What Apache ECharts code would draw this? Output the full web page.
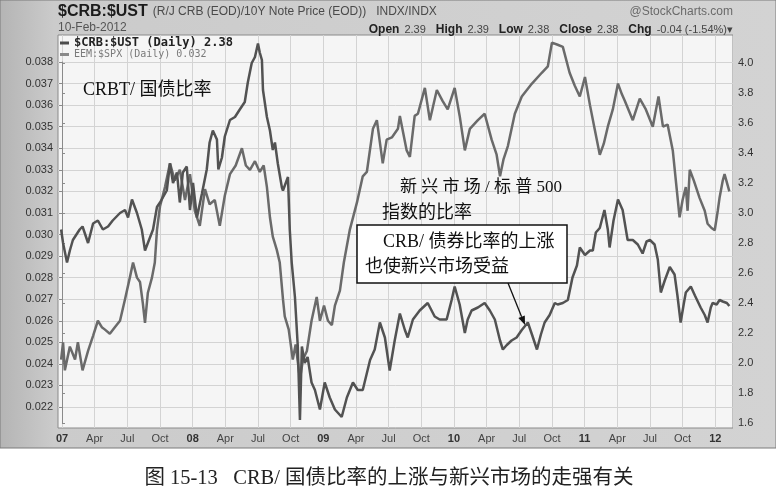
<!DOCTYPE html>
<html><head><meta charset="utf-8">
<script src="https://cdn.jsdelivr.net/npm/echarts/dist/echarts.min.js"></script>
<style>html,body{margin:0;padding:0;background:#fff}#c{width:776px;height:496px}</style>
</head><body><div id="c"></div>
<script>
// ---- data ----
const crbDates = ['2006-12-29','2007-01-04','2007-01-15','2007-01-23','2007-02-01','2007-02-20','2007-02-28','2007-03-13','2007-03-27','2007-04-10',
'2007-04-24','2007-05-08','2007-05-21','2007-06-11','2007-06-25','2007-07-03','2007-07-14','2007-07-28','2007-08-11','2007-08-20',
'2007-08-28','2007-09-12','2007-09-23','2007-10-01','2007-10-20','2007-10-29','2007-11-07','2007-11-18','2007-11-26','2007-12-04',
'2007-12-15','2007-12-24','2008-01-02','2008-01-13','2008-01-27','2008-02-10','2008-02-18','2008-02-27','2008-03-08','2008-03-12',
'2008-03-22','2008-03-30','2008-04-14','2008-04-28','2008-05-11','2008-05-25','2008-06-03','2008-06-14','2008-06-23','2008-07-01',
'2008-07-06','2008-07-12','2008-07-15','2008-07-26','2008-08-04','2008-08-12','2008-08-18','2008-08-26','2008-09-07','2008-09-10',
'2008-09-24','2008-09-29','2008-10-04','2008-10-13','2008-10-21','2008-10-27','2008-11-02','2008-11-10','2008-11-18','2008-11-29',
'2008-12-08','2008-12-22','2009-01-05','2009-01-19','2009-02-03','2009-02-22','2009-03-06','2009-03-23','2009-04-06','2009-04-20',
'2009-05-10','2009-05-23','2009-06-07','2009-06-21','2009-07-04','2009-07-18','2009-08-02','2009-08-16','2009-08-24','2009-09-08',
'2009-09-27','2009-10-19','2009-11-08','2009-11-22','2009-12-11','2009-12-25','2010-01-03','2010-01-17','2010-02-01','2010-02-09',
'2010-02-20','2010-03-07','2010-03-26','2010-04-10','2010-04-24','2010-05-08','2010-05-16','2010-05-27','2010-06-10','2010-06-24',
'2010-07-08','2010-07-25','2010-08-06','2010-08-20','2010-08-31','2010-09-11','2010-09-25','2010-10-09','2010-10-17','2010-11-01',
'2010-11-15','2010-11-28','2010-12-10','2010-12-18','2011-01-02','2011-01-16','2011-01-24','2011-02-02','2011-02-13','2011-02-26',
'2011-03-05','2011-03-10','2011-03-21','2011-04-03','2011-04-16','2011-04-30','2011-05-14','2011-05-28','2011-06-11','2011-06-22',
'2011-07-01','2011-07-14','2011-07-23','2011-08-01','2011-08-12','2011-08-26','2011-09-09','2011-09-17','2011-09-26','2011-10-04',
'2011-10-10','2011-10-24','2011-11-05','2011-11-21','2011-12-02','2011-12-10','2011-12-19','2011-12-24','2012-01-05','2012-01-13',
'2012-01-22','2012-02-03','2012-02-10'];
const crbValues = [2.89,2.80,2.67,2.75,2.82,2.89,2.91,2.80,2.93,2.95,
2.89,2.91,2.95,3.00,3.02,2.97,3.09,3.00,2.89,2.75,
2.80,2.89,3.04,3.07,3.15,3.33,3.20,3.27,3.07,3.27,
3.31,3.02,3.20,2.97,3.13,3.29,3.47,3.55,3.49,3.29,
3.37,3.51,3.62,3.64,3.69,3.74,3.87,4.00,4.04,4.13,
4.07,4.02,3.82,3.64,3.55,3.42,3.47,3.33,3.17,3.15,
3.24,2.89,2.67,2.44,2.11,1.62,2.11,2.00,2.04,1.87,
1.82,1.69,1.87,1.77,1.69,1.64,1.77,1.87,1.82,1.82,
2.02,2.09,2.27,2.17,1.95,2.15,2.33,2.22,2.17,2.29,
2.35,2.40,2.31,2.29,2.29,2.42,2.51,2.39,2.20,2.29,
2.35,2.37,2.40,2.35,2.29,2.15,2.09,2.12,2.15,2.17,
2.22,2.27,2.19,2.09,2.19,2.27,2.32,2.40,2.39,2.40,
2.42,2.57,2.65,2.77,2.72,2.75,2.75,2.87,2.90,3.02,
2.89,2.77,2.95,3.09,3.02,2.82,2.82,2.79,2.73,2.81,
2.82,2.79,2.69,2.47,2.55,2.64,2.59,2.45,2.27,2.39,
2.47,2.51,2.45,2.37,2.32,2.27,2.37,2.40,2.39,2.42,
2.41,2.40,2.38];

const eemDates = ['2006-12-29','2007-01-04','2007-01-09','2007-01-23','2007-02-07','2007-02-15','2007-02-28','2007-03-13','2007-03-27','2007-04-10',
'2007-04-21','2007-04-29','2007-05-13','2007-05-27','2007-06-11','2007-06-25','2007-07-08','2007-07-17','2007-07-28','2007-08-06',
'2007-08-14','2007-08-20','2007-08-28','2007-09-09','2007-09-17','2007-09-23','2007-10-01','2007-10-15','2007-10-29',
'2007-11-12','2007-11-26','2007-12-10','2007-12-24','2008-01-07','2008-01-21','2008-02-05','2008-02-18','2008-03-02','2008-03-16',
'2008-03-30','2008-04-14','2008-04-30','2008-05-17','2008-05-28','2008-06-09','2008-06-23','2008-07-06','2008-07-17','2008-07-26',
'2008-08-04','2008-08-12','2008-08-23','2008-09-01','2008-09-10','2008-09-15','2008-09-26','2008-10-07','2008-10-15','2008-10-27',
'2008-11-05','2008-11-16','2008-11-29','2008-12-13','2008-12-22','2009-01-03','2009-01-14','2009-01-25','2009-02-03','2009-02-17',
'2009-02-28','2009-03-14','2009-04-04','2009-04-20','2009-05-01','2009-05-18','2009-05-29','2009-06-15','2009-06-26','2009-07-10',
'2009-07-27','2009-08-02','2009-08-21','2009-08-30','2009-09-13','2009-09-22','2009-10-11','2009-10-25','2009-11-14','2009-11-30',
'2009-12-14','2010-01-03','2010-01-17','2010-02-01','2010-02-15','2010-03-07','2010-03-26','2010-04-15','2010-04-29','2010-05-08',
'2010-05-18','2010-05-30','2010-06-19','2010-07-08','2010-08-06','2010-09-03','2010-09-20','2010-10-01','2010-10-17','2010-11-01',
'2010-11-20','2010-12-04','2010-12-18','2011-01-02','2011-01-16','2011-01-29','2011-02-13','2011-02-24','2011-03-05','2011-03-19',
'2011-04-03','2011-04-14','2011-04-22','2011-05-14','2011-06-03','2011-06-20','2011-07-09','2011-07-25','2011-08-07','2011-08-20',
'2011-09-04','2011-09-15','2011-09-23','2011-10-01','2011-10-10','2011-10-15','2011-10-21','2011-11-02','2011-11-18','2011-12-02',
'2011-12-10','2011-12-21','2011-12-30','2012-01-08','2012-01-13','2012-01-22','2012-01-27','2012-02-10'];
const eemValues = [0.0242,0.0250,0.0237,0.0248,0.0242,0.0250,0.0237,0.0246,0.0253,0.0260,
0.0257,0.0256,0.0254,0.0257,0.0260,0.0270,0.0280,0.0287,0.0280,0.0278,
0.0268,0.0259,0.0273,0.0280,0.0287,0.0302,0.0313,0.0322,0.0333,
0.0325,0.0330,0.0316,0.0328,0.0311,0.0304,0.0321,0.0314,0.0316,0.0304,
0.0318,0.0328,0.0332,0.0340,0.0332,0.0330,0.0334,0.0329,0.0332,0.0322,
0.0308,0.0299,0.0293,0.0287,0.0270,0.0262,0.0256,0.0242,0.0249,0.0233,
0.0242,0.0246,0.0260,0.0271,0.0260,0.0267,0.0260,0.0258,0.0267,0.0274,
0.0287,0.0302,0.0315,0.0327,0.0329,0.0349,0.0353,0.0333,0.0344,0.0345,
0.0349,0.0355,0.0339,0.0336,0.0355,0.0356,0.0368,0.0353,0.0367,0.0362,
0.0358,0.0368,0.0355,0.0339,0.0349,0.0353,0.0356,0.0344,0.0337,0.0327,
0.0335,0.0341,0.0356,0.0364,0.0370,0.0375,0.0378,0.0389,0.0388,0.0387,
0.0375,0.0369,0.0364,0.0373,0.0360,0.0349,0.0337,0.0342,0.0350,0.0358,
0.0370,0.0365,0.0362,0.0353,0.0363,0.0358,0.0350,0.0364,0.0350,0.0351,
0.0339,0.0321,0.0308,0.0316,0.0322,0.0311,0.0330,0.0325,0.0317,0.0311,
0.0305,0.0303,0.0302,0.0311,0.0317,0.0325,0.0328,0.0320];

const quarterLabels = ['', 'Apr', 'Jul', 'Oct'];
const crbName = '$CRB:$UST';
const eemName = 'EEM:$SPX';

// ---- helpers ----
const toMonth = s => { const p = s.split('-').map(Number); return (p[0] - 2007) * 12 + (p[1] - 1) + (p[2] - 1) / 30.44; };
const crbData = crbDates.map((d, i) => [toMonth(d), crbValues[i]]);
const eemData = eemDates.map((d, i) => [toMonth(d), eemValues[i]]);
const XMIN = -0.367, XMAX = 61.63;
const SANS = '"Liberation Sans", Arial, sans-serif';
const MONO = '"DejaVu Sans Mono", monospace';
const SERIF = '"Liberation Serif", "Noto Sans CJK SC", serif';
const GRID_C = '#d3d3d3', AXIS_C = '#8a8a8a';

const chart = echarts.init(document.getElementById('c'), null, {renderer: 'canvas'});
const txt = (x, y, text, size, align) => ({
  type: 'text', x: x, y: y, z: 100,
  style: {text: text, font: size + 'px ' + SERIF, fill: '#111', align: align || 'left', textAlign: align || 'left', verticalAlign: 'middle', textVerticalAlign: 'middle'}
});

chart.setOption({
  animation: false,
  backgroundColor: '#ffffff',
  title: [
    {left: 58, top: 3, padding: 0,
     text: '{a|$CRB:$UST} {b|(R/J CRB (EOD)/10Y Note Price (EOD))}  {b|INDX/INDX}',
     textStyle: {fontWeight: 'normal',
                 rich: {a: {fontFamily: SANS, fontSize: 16, fontWeight: 'bold', color: '#1c1c1c'},
                        b: {fontFamily: SANS, fontSize: 12, fontWeight: 'normal', color: '#4a4a4a'}}}},
    {left: 58, top: 22, padding: 0, text: '10-Feb-2012',
     textStyle: {fontFamily: SANS, fontSize: 12, fontWeight: 'normal', color: '#555'}},
    {right: 43, top: 6, padding: 0, text: '@StockCharts.com',
     textStyle: {fontFamily: SANS, fontSize: 12, fontWeight: 'normal', color: '#6a6a6a'}},
    {right: 43, top: 21, padding: 0,
     text: '{b|Open} {n|2.39}  {b|High} {n|2.39}  {b|Low} {n|2.38}  {b|Close} {n|' + crbValues[crbValues.length - 1].toFixed(2) + '}  {b|Chg} {n|-0.04 (-1.54%)▾}',
     textStyle: {fontWeight: 'normal',
                 rich: {b: {fontFamily: SANS, fontSize: 12, fontWeight: 'bold', color: '#222'},
                        n: {fontFamily: SANS, fontSize: 11, fontWeight: 'normal', color: '#444'}}}}
  ],
  legend: {
    orient: 'vertical', left: 60, top: 37, padding: 0, itemGap: 0, itemWidth: 9, itemHeight: 3, icon: 'rect',
    selectedMode: false,
    data: [
      {name: crbName, textStyle: {fontFamily: MONO, fontWeight: 'bold', fontSize: 12, color: '#222', lineHeight: 11}},
      {name: eemName, textStyle: {fontFamily: MONO, fontSize: 10, color: '#7a7a7a', lineHeight: 11}}
    ],
    formatter: n => n === crbName
      ? n + ' (Daily) ' + crbValues[crbValues.length - 1].toFixed(2)
      : n + ' (Daily) ' + eemValues[eemValues.length - 1].toFixed(3)
  },
  grid: [
    {left: 58, right: 43, top: 35, bottom: 68, show: true, backgroundColor: '#f5f5f5', borderColor: AXIS_C, borderWidth: 1},
    {left: 62, right: 43, top: 35, bottom: 68},
    {left: 58, right: 43, top: 62, bottom: 89},
    {left: 58, right: 43, top: 63, bottom: 73}
  ],
  xAxis: [
    {gridIndex: 0, type: 'value', min: 0, max: 1, show: false},
    {gridIndex: 1, type: 'value', min: 0, max: XMAX, interval: 3,
     axisLine: {show: false}, axisTick: {show: false},
     splitLine: {show: true, lineStyle: {color: GRID_C, width: 1}},
     axisLabel: {showMinLabel: true, showMaxLabel: false, margin: 5,
       formatter: v => { const k = Math.round(v); return k % 12 === 0 ? '{y|' + String(7 + k / 12).padStart(2, '0') + '}' : '{m|' + quarterLabels[(k % 12) / 3] + '}'; },
       rich: {y: {fontFamily: SANS, fontSize: 11, fontWeight: 'bold', color: '#333'},
              m: {fontFamily: SANS, fontSize: 11, color: '#444'}}}},
    {gridIndex: 2, type: 'value', min: XMIN, max: XMAX, show: false},
    {gridIndex: 3, type: 'value', min: XMIN, max: XMAX, show: false}
  ],
  yAxis: [
    {gridIndex: 0, type: 'value', min: 0, max: 1, show: false},
    {gridIndex: 1, type: 'value', min: 0, max: 1, show: false},
    {gridIndex: 2, type: 'value', position: 'left', min: 0.022, max: 0.038, interval: 0.001,
     axisLine: {show: true, lineStyle: {color: AXIS_C}}, axisTick: {show: true, length: 3, lineStyle: {color: AXIS_C}},
     axisLabel: {margin: 5, fontFamily: SANS, fontSize: 11, color: '#333', formatter: v => v.toFixed(3)},
     splitLine: {show: true, lineStyle: {color: GRID_C, width: 1}}},
    {gridIndex: 3, type: 'value', position: 'right', min: 1.6, max: 4.0, interval: 0.2,
     axisLine: {show: true, lineStyle: {color: AXIS_C}}, axisTick: {show: true, length: 3, lineStyle: {color: AXIS_C}},
     axisLabel: {margin: 5, fontFamily: SANS, fontSize: 11, color: '#333', formatter: v => v.toFixed(1)},
     splitLine: {show: false}}
  ],
  series: [
    {name: crbName, type: 'line', xAxisIndex: 3, yAxisIndex: 3, data: crbData, showSymbol: false, clip: false, z: 4,
     lineStyle: {width: 2.5, color: '#525252'}, itemStyle: {color: '#4c4c4c'}},
    {name: eemName, type: 'line', xAxisIndex: 2, yAxisIndex: 2, data: eemData, showSymbol: false, clip: false, z: 3,
     lineStyle: {width: 2.5, color: '#6a6a6a'}, itemStyle: {color: '#8a8a8a'}}
  ],
  graphic: [
    {type: 'rect', z: -100, shape: {x: 0, y: 0, width: 776, height: 448},
     style: {fill: new echarts.graphic.LinearGradient(0, 0, 1, 0, [{offset: 0, color: '#b4b4b4'}, {offset: 0.07, color: '#cbcbcb'}, {offset: 1, color: '#d3d3d3'}]), stroke: '#7a7a7a', lineWidth: 1}},
    txt(83, 90, 'CRBT/ 国债比率', 18),
    txt(400, 188, '新 兴 市 场 / 标 普 500', 17),
    txt(382, 213, '指数的比率', 18),
    {type: 'rect', z: 100, shape: {x: 357, y: 225, width: 210, height: 58},
     style: {fill: '#ffffff', stroke: '#111', lineWidth: 1.5}},
    txt(383, 242, 'CRB/ 债券比率的上涨', 18),
    txt(365, 267, '也使新兴市场受益', 18),
    {type: 'line', z: 100, shape: {x1: 508, y1: 283, x2: 521.6, y2: 316.7}, style: {stroke: '#111', lineWidth: 1.3}},
    {type: 'polygon', z: 100, shape: {points: [[525, 325], [518.4, 318.0], [524.8, 315.4]]}, style: {fill: '#111'}},
    {type: 'text', x: 389, y: 479, z: 100,
     style: {text: '图 15-13   CRB/ 国债比率的上涨与新兴市场的走强有关', font: '20.5px ' + SERIF, fill: '#222',
             align: 'center', textAlign: 'center', verticalAlign: 'middle', textVerticalAlign: 'middle'}}
  ]
});
</script>
</body></html>
